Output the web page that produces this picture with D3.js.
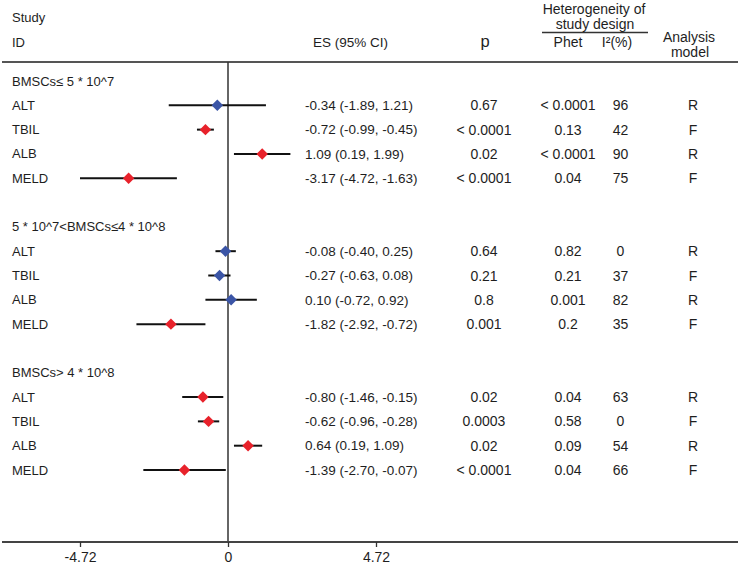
<!DOCTYPE html>
<html>
<head>
<meta charset="utf-8">
<script src="https://cdn.jsdelivr.net/npm/d3@7"></script>
<style>
html,body{margin:0;padding:0;background:#fff;}
svg{display:block;font-family:"Liberation Sans",Arial,sans-serif;}
</style>
</head>
<body>
<svg id="chart" width="753" height="565"></svg>
<script>
// ---- data ----
const groups = ["BMSCs\u2264 5 * 10^7", "5 * 10^7<BMSCs\u22644 * 10^8", "BMSCs> 4 * 10^8"];
const outcomes = ["ALT", "TBIL", "ALB", "MELD"];
const es = [-0.34, -0.72, 1.09, -3.17, -0.08, -0.27, 0.10, -1.82, -0.80, -0.62, 0.64, -1.39];
const lo = [-1.89, -0.99, 0.19, -4.72, -0.40, -0.63, -0.72, -2.92, -1.46, -0.96, 0.19, -2.70];
const hi = [1.21, -0.45, 1.99, -1.63, 0.25, 0.08, 0.92, -0.72, -0.15, -0.28, 1.09, -0.07];
const pText = ["0.67", "< 0.0001", "0.02", "< 0.0001", "0.64", "0.21", "0.8", "0.001", "0.02", "0.0003", "0.02", "< 0.0001"];
const phet = ["< 0.0001", "0.13", "< 0.0001", "0.04", "0.82", "0.21", "0.001", "0.2", "0.04", "0.58", "0.09", "0.04"];
const i2 = ["96", "42", "90", "75", "0", "37", "82", "35", "63", "0", "54", "66"];
const model = ["R", "F", "R", "F", "R", "F", "R", "F", "R", "F", "R", "F"];
const significant = [false, true, true, true, false, false, false, true, true, true, true, true];
const tickValues = [-4.72, 0, 4.72];
const tickLabels = ["-4.72", "0", "4.72"];

// ---- layout ----
const svg = d3.select("#chart");
const x = d3.scaleLinear().domain([-4.72, 4.72]).range([80, 376]);
const y = d3.scaleLinear().domain([0, 16]).range([81, 470]);
const textColor = "#1e1e1e";
const fs = 13;

// build rows
const rows = [];
groups.forEach((g, gi) => {
  rows.push({type: "header", label: g, r: gi * 6});
  outcomes.forEach((o, oi) => {
    const k = gi * 4 + oi;
    rows.push({type: "study", label: o, r: gi * 6 + 1 + oi, k});
  });
});
const studies = rows.filter(d => d.type === "study");

function txt(xp, yp, s, anchor, size) {
  return svg.append("text").attr("x", xp).attr("y", yp).attr("text-anchor", anchor || "start")
    .attr("font-size", size || fs).attr("fill", textColor).text(s);
}
txt(12, 22, "Study");
txt(12, 47, "ID");
txt(313, 47, "ES (95% CI)", "start", 13.5);
txt(485, 47, "p", "middle", 16.5);
txt(594, 14, "Heterogeneity of", "middle", 14);
txt(595, 29, "study design", "middle", 14);
svg.append("line").attr("x1", 542).attr("x2", 648).attr("y1", 32.5).attr("y2", 32.5)
  .attr("stroke", "#333").attr("stroke-width", 1.5);
txt(568, 47, "Phet", "middle", 14);
txt(617, 47, "I\u00b2(%)", "middle", 14);
txt(689, 42, "Analysis", "middle", 14);
txt(690, 57, "model", "middle", 14);

// top rule
svg.append("line").attr("x1", 2).attr("x2", 738).attr("y1", 62).attr("y2", 62)
  .attr("stroke", "#555").attr("stroke-width", 2);

// zero line
svg.append("line").attr("x1", x(0)).attr("x2", x(0)).attr("y1", 62).attr("y2", 542)
  .attr("stroke", "#333").attr("stroke-width", 1.5);

// row labels
svg.append("g").selectAll("text").data(rows).join("text")
  .attr("x", 12).attr("y", d => y(d.r) + 4.5)
  .attr("font-size", fs).attr("fill", textColor).text(d => d.label);

// CI lines
svg.append("g").selectAll("line").data(studies).join("line")
  .attr("x1", d => x(lo[d.k])).attr("x2", d => x(hi[d.k]))
  .attr("y1", d => y(d.r)).attr("y2", d => y(d.r))
  .attr("stroke", "#111").attr("stroke-width", 2);

// diamonds
const sym = d3.symbol().type(d3.symbolSquare).size(66);
svg.append("g").selectAll("path").data(studies).join("path")
  .attr("d", sym)
  .attr("transform", d => `translate(${x(es[d.k])},${y(d.r)}) rotate(45)`)
  .attr("fill", d => significant[d.k] ? "#e8222b" : "#3b55a6");

// ES text
svg.append("g").selectAll("text").data(studies).join("text")
  .attr("x", 305).attr("y", d => y(d.r) + 4.8).attr("font-size", 13.5).attr("fill", textColor)
  .text(d => `${es[d.k].toFixed(2)} (${lo[d.k].toFixed(2)}, ${hi[d.k].toFixed(2)})`);

// columns
const cols = [[484, pText], [568, phet], [620.5, i2], [693, model]];
cols.forEach(([cx, arr]) => {
  svg.append("g").selectAll("text").data(studies).join("text")
    .attr("x", cx).attr("y", d => y(d.r) + 5).attr("text-anchor", "middle")
    .attr("font-size", 14).attr("fill", textColor).text(d => arr[d.k]);
});

// bottom axis
svg.append("line").attr("x1", 2).attr("x2", 738).attr("y1", 542).attr("y2", 542)
  .attr("stroke", "#444").attr("stroke-width", 2);
const axis = d3.axisBottom(x).tickValues(tickValues).tickSize(5).tickPadding(5)
  .tickFormat((d, i) => tickLabels[i]);
const ag = svg.append("g").attr("transform", "translate(0,542)").call(axis);
ag.select(".domain").remove();
ag.selectAll(".tick line").attr("stroke", "#333").attr("stroke-width", 1.3);
ag.selectAll(".tick text").attr("font-size", 14).attr("fill", textColor)
  .attr("font-family", "Liberation Sans, Arial, sans-serif");
</script>
</body>
</html>
